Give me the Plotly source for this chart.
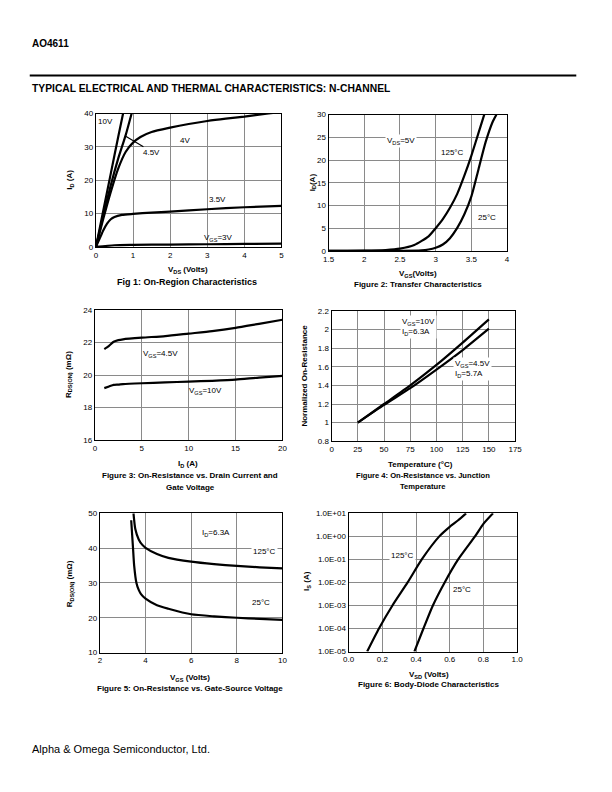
import plotly.graph_objects as go

W, H = 612, 792
FONT = "Liberation Sans, Arial, sans-serif"

# ---------------- Data ----------------
# Fig 1: On-region characteristics (VDS vs ID)
f1_vds_10v = [0, 0.2, 0.4, 0.6, 0.73]
f1_id_10v = [0, 11, 22, 33, 40]
f1_vds_45v = [0, 0.2, 0.4, 0.6, 0.8, 0.96]
f1_id_45v = [0, 9.5, 18.5, 26.5, 33.5, 40]
f1_vds_4v = [0, 0.2, 0.4, 0.6, 0.8, 1.0, 1.2, 1.5, 2, 2.5, 3, 3.5, 4, 4.6, 5]
f1_id_4v = [0, 8.5, 16.5, 23.5, 28.5, 31.3, 33.0, 34.5, 35.8, 36.9, 37.8, 38.5, 39.1, 40.0, 40.5]
f1_vds_35v = [0, 0.1, 0.2, 0.3, 0.4, 0.5, 0.7, 1.0, 1.5, 2, 3, 4, 5]
f1_id_35v = [0, 2.5, 5.0, 7.0, 8.3, 9.0, 9.6, 9.9, 10.3, 10.6, 11.3, 11.9, 12.3]
f1_vds_3v = [0, 0.5, 1, 2, 3, 4, 5]
f1_id_3v = [0, 0.5, 0.6, 0.7, 0.8, 0.9, 1.0]

# Fig 2: Transfer characteristics
f2_vgs_125 = [1.5, 2.0, 2.3, 2.5, 2.7, 2.9, 3.0, 3.1, 3.2, 3.3, 3.4, 3.5, 3.6, 3.68]
f2_id_125 = [0, 0.05, 0.2, 0.5, 1.3, 3.2, 5, 7, 9.5, 12.5, 16.5, 21, 26, 30]
f2_vgs_25 = [1.5, 2.5, 2.8, 2.9, 3.0, 3.1, 3.2, 3.3, 3.4, 3.5, 3.6, 3.7, 3.8, 3.85]
f2_id_25 = [0, 0, 0.1, 0.3, 0.7, 1.4, 2.8, 5, 8, 12, 18, 24, 28.5, 30]

# Fig 3: On-resistance vs drain current
f3_id = [1, 1.5, 2, 2.5, 3, 5, 7.5, 10, 12.5, 15, 17.5, 20]
f3_r_45v = [21.6, 21.8, 22.05, 22.15, 22.2, 22.3, 22.4, 22.55, 22.7, 22.9, 23.15, 23.4]
f3_r_10v = [19.2, 19.3, 19.4, 19.42, 19.45, 19.5, 19.55, 19.6, 19.65, 19.72, 19.85, 19.95]

# Fig 4: Normalized on-resistance vs temperature
f4_temp = [25, 50, 75, 100, 125, 150]
f4_r_10v = [1.0, 1.2, 1.4, 1.62, 1.86, 2.11]
f4_r_45v = [1.0, 1.19, 1.37, 1.57, 1.78, 2.01]

# Fig 5: On-resistance vs gate-source voltage
f5_vgs_125 = [3.47, 3.55, 3.7, 3.85, 4, 4.5, 5, 6, 7, 8, 9, 10]
f5_r_125 = [50, 45.5, 42.5, 41, 40.1, 38.3, 37.2, 36.1, 35.4, 34.9, 34.5, 34.2]
f5_vgs_25 = [3.37, 3.45, 3.5, 3.6, 3.7, 3.8, 4, 4.5, 5, 6, 7, 8, 9, 10]
f5_r_25 = [48, 40, 35, 30, 28, 26.8, 25.5, 23.6, 22.6, 21, 20.4, 20.0, 19.7, 19.4]

# Fig 6: Body-diode characteristics
f6_vsd_125 = [0.11, 0.18, 0.26, 0.35, 0.434, 0.538, 0.6, 0.65, 0.697]
f6_is_125 = [1e-5, 1e-4, 1e-3, 1e-2, 1e-1, 1, 2.6, 5, 10]
f6_vsd_25 = [0.39, 0.444, 0.50, 0.57, 0.65, 0.75, 0.80, 0.857]
f6_is_25 = [1e-5, 1e-4, 1e-3, 1e-2, 1e-1, 1, 3.5, 10]
f6_tickvals = [1e-5, 1e-4, 1e-3, 1e-2, 1e-1, 1, 10]
f6_ticktext = ["1.0E-05", "1.0E-04", "1.0E-03", "1.0E-02", "1.0E-01", "1.0E+00", "1.0E+01"]

# ---------------- Layout helpers ----------------
# compensation for the observed page offset/scale in the screenshot
AX, BX = 0.976, 14.3
AY, BY = 0.987, 12.5

def px(x):
    return ((x - BX) / AX) / W

def py(y):
    return 1 - ((y - BY) / AY) / H

# plot areas in target pixels: (left, top, right, bottom)
boxes = {
    1: (96, 114, 281, 247),
    2: (328, 115, 506, 251),
    3: (95, 310, 282, 440),
    4: (331, 311, 514, 441),
    5: (100, 513, 282, 652),
    6: (348, 513, 516, 651),
}

fig = go.Figure()

def line(n, x, y):
    sfx = "" if n == 1 else str(n)
    fig.add_trace(go.Scatter(x=x, y=y, mode="lines", xaxis="x" + sfx, yaxis="y" + sfx,
                             line=dict(color="black", width=2.2, shape="spline", smoothing=0.6),
                             showlegend=False, hoverinfo="skip"))

line(1, f1_vds_10v, f1_id_10v)
line(1, f1_vds_45v, f1_id_45v)
line(1, f1_vds_4v, f1_id_4v)
line(1, f1_vds_35v, f1_id_35v)
line(1, f1_vds_3v, f1_id_3v)
line(2, f2_vgs_125, f2_id_125)
line(2, f2_vgs_25, f2_id_25)
line(3, f3_id, f3_r_45v)
line(3, f3_id, f3_r_10v)
line(4, f4_temp, f4_r_10v)
line(4, f4_temp, f4_r_45v)
line(5, f5_vgs_125, f5_r_125)
line(5, f5_vgs_25, f5_r_25)
line(6, f6_vsd_125, f6_is_125)
line(6, f6_vsd_25, f6_is_25)

axis_common = dict(showline=True, linecolor="black", linewidth=1.2, mirror=True,
                   showgrid=True, gridcolor="#8a8a8a", gridwidth=1, zeroline=False,
                   ticks="", tickfont=dict(family=FONT, size=8, color="black"), fixedrange=True)

ranges = {
    1: dict(x=dict(range=[0, 5], dtick=1), y=dict(range=[0, 40], dtick=10)),
    2: dict(x=dict(range=[1.5, 4], dtick=0.5), y=dict(range=[0, 30], dtick=5)),
    3: dict(x=dict(range=[0, 20], dtick=5), y=dict(range=[16, 24], dtick=2)),
    4: dict(x=dict(range=[0, 175], dtick=25), y=dict(range=[0.8, 2.2], dtick=0.2)),
    5: dict(x=dict(range=[2, 10], dtick=2), y=dict(range=[10, 50], dtick=10)),
    6: dict(x=dict(range=[0, 1], dtick=0.2, tickformat=".1f"),
            y=dict(type="log", range=[-5, 1], tickvals=f6_tickvals, ticktext=f6_ticktext)),
}

layout = dict(width=W, height=H, margin=dict(l=0, r=0, t=0, b=0),
              paper_bgcolor="white", plot_bgcolor="white", showlegend=False)
for n, (l, t, r, b) in boxes.items():
    sfx = "" if n == 1 else str(n)
    xa = dict(axis_common, domain=[px(l), px(r)], anchor="y" + sfx, **ranges[n]["x"])
    ya = dict(axis_common, domain=[py(b), py(t)], anchor="x" + sfx, **ranges[n]["y"])
    layout["xaxis" + sfx] = xa
    layout["yaxis" + sfx] = ya

fig.update_layout(**layout)

ann = []

def ptext(text, x, y, size=8, bold=False, angle=0, xanchor="center", yanchor="middle"):
    if bold:
        text = "<b>" + text + "</b>"
    ann.append(dict(text=text, x=px(x), y=py(y), xref="paper", yref="paper", showarrow=False,
                    textangle=angle, xanchor=xanchor, yanchor=yanchor,
                    font=dict(family=FONT, size=size, color="black")))

def dtext(n, text, x, y, size=8, bg=None, align="left"):
    sfx = "" if n == 1 else str(n)
    d = dict(text=text, x=x, y=y, xref="x" + sfx, yref="y" + sfx, showarrow=False,
             align=align, font=dict(family=FONT, size=size, color="black"))
    if bg:
        d["bgcolor"] = bg
        d["borderpad"] = 1
    ann.append(d)

# Header / footer
ptext("AO4611", 30, 44, size=10, bold=True, xanchor="left")
ptext("TYPICAL ELECTRICAL AND THERMAL CHARACTERISTICS: N-CHANNEL", 30, 89, size=10.3, bold=True, xanchor="left")
ptext("Alpha &amp; Omega Semiconductor, Ltd.", 30, 748, size=11, xanchor="left")

# Fig 1
ptext("I<sub>D</sub> (A)", 70, 180, size=8, bold=True, angle=-90)
ptext("V<sub>DS</sub> (Volts)", 188, 270, size=8, bold=True)
ptext("Fig 1: On-Region Characteristics", 187, 282, size=9, bold=True)
dtext(1, "10V", 0.25, 37.6)
dtext(1, "4V", 2.4, 31.8)
dtext(1, "4.5V", 1.5, 28.3)
dtext(1, "3.5V", 3.27, 14.1)
dtext(1, "V<sub>GS</sub>=3V", 3.3, 2.8)
ann.append(dict(x=0.78, y=33.4, ax=1.32, ay=29.8, xref="x", yref="y", axref="x", ayref="y",
                showarrow=True, arrowhead=0, arrowwidth=1.2, arrowcolor="black", text=""))

# Fig 2
ptext("I<sub>D</sub>(A)", 312, 183, size=8, bold=True, angle=-90)
ptext("V<sub>GS</sub>(Volts)", 417, 274, size=8, bold=True)
ptext("Figure 2: Transfer Characteristics", 417, 285, size=8, bold=True)
dtext(2, "V<sub>DS</sub>=5V", 2.51, 24.2, bg="white")
dtext(2, "125°C", 3.24, 21.7)
dtext(2, "25°C", 3.72, 7.4)

# Fig 3
ptext("R<sub>DS(ON)</sub> (mΩ)", 69, 374, size=8, bold=True, angle=-90)
ptext("I<sub>D</sub> (A)", 188, 464, size=8, bold=True)
ptext("Figure 3: On-Resistance vs. Drain Current and", 190, 475, size=8, bold=True)
ptext("Gate Voltage", 190, 487, size=8, bold=True)
dtext(3, "V<sub>GS</sub>=4.5V", 7.0, 21.3)
dtext(3, "V<sub>GS</sub>=10V", 11.8, 19.0)

# Fig 4
ptext("Normalized On-Resistance", 304, 376, size=8, bold=True, angle=-90)
ptext("Temperature (°C)", 420, 464, size=8, bold=True)
ptext("Figure 4: On-Resistance vs. Junction", 422, 475, size=7.6, bold=True)
ptext("Temperature", 422, 486, size=7.6, bold=True)
dtext(4, "V<sub>GS</sub>=10V<br>I<sub>D</sub>=6.3A", 83, 2.03, bg="white")
dtext(4, "V<sub>GS</sub>=4.5V<br>I<sub>D</sub>=5.7A", 134, 1.58, bg="white")

# Fig 5
ptext("R<sub>DS(ON)</sub> (mΩ)", 71, 583, size=8, bold=True, angle=-90)
ptext("V<sub>GS</sub> (Volts)", 190, 677, size=8, bold=True)
ptext("Figure 5: On-Resistance vs. Gate-Source Voltage", 190, 688, size=8, bold=True)
dtext(5, "I<sub>D</sub>=6.3A", 7.07, 44.4, bg="white")
dtext(5, "125°C", 9.2, 39.0, bg="white")
dtext(5, "25°C", 9.05, 24.4)

# Fig 6
ptext("I<sub>S</sub> (A)", 307, 581, size=8, bold=True, angle=-90)
ptext("V<sub>SD</sub> (Volts)", 428, 674, size=8, bold=True)
ptext("Figure 6: Body-Diode Characteristics", 428, 684, size=8, bold=True)
dtext(6, "125°C", 0.32, -0.84, bg="white")
dtext(6, "25°C", 0.67, -2.32)

fig.update_layout(annotations=ann)

fig.add_shape(type="line", xref="paper", yref="paper", x0=px(30), x1=px(575),
              y0=py(76), y1=py(76), line=dict(color="black", width=2))

fig.write_html("out.html")
